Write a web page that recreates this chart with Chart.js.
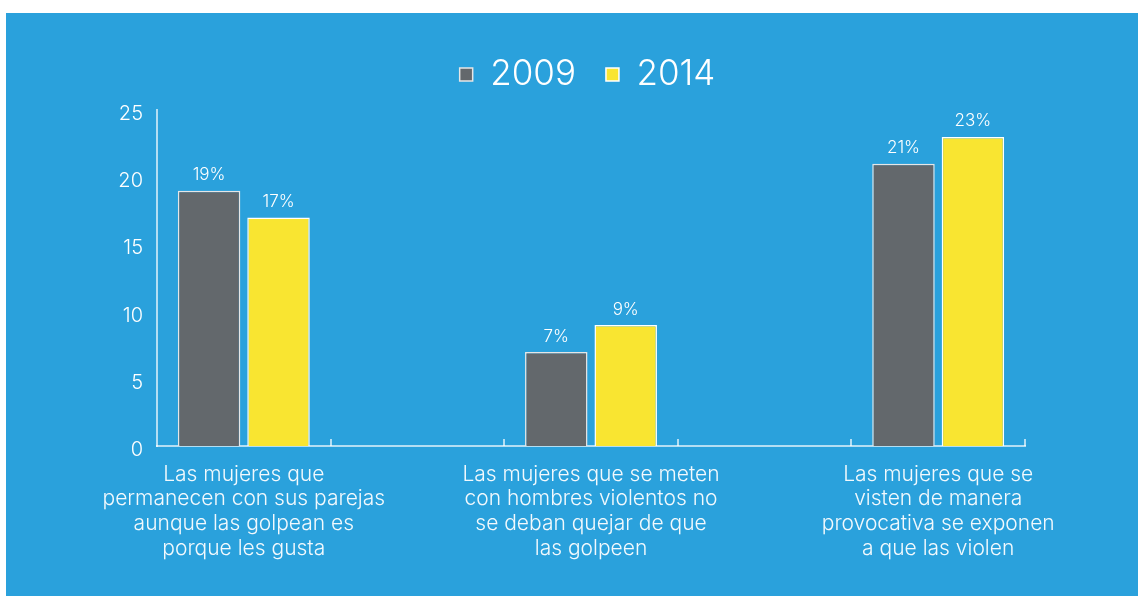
<!DOCTYPE html>
<html>
<head>
<meta charset="utf-8">
<script src="https://cdn.jsdelivr.net/npm/chart.js@4.4.1/dist/chart.umd.min.js"></script>
<style>
  html, body { margin: 0; padding: 0; background: #ffffff; }
  #panel {
    position: absolute;
    left: 6px; top: 13px;
    width: 1132px; height: 583px;
    background: #2AA1DC;
  }
</style>
</head>
<body>
<div id="panel"><canvas id="chart" width="1132" height="583"></canvas></div>
<script>
// Blank categories between the real ones, as in the original chart
const categories = [
    ['Las mujeres que', 'permanecen con sus parejas', 'aunque las golpean es', 'porque les gusta'],
    '',
    ['Las mujeres que se meten', 'con hombres violentos no', 'se deban quejar de que', 'las golpeen'],
    '',
    ['Las mujeres que se', 'visten de manera', 'provocativa se exponen', 'a que las violen']
];
const values2009 = [19, null, 7, null, 21];
const values2014 = [17, null, 9, null, 23];
const yTicks = [0, 5, 10, 15, 20, 25];

const fontFamily = 'Inter, "Noto Sans", sans-serif';
const axisColor = 'rgba(255, 255, 255, 0.65)';

// Percent labels above each bar
const barLabels = {
    id: 'barLabels',
    afterDatasetsDraw(chart) {
        const ctx = chart.ctx;
        ctx.save();
        ctx.fillStyle = '#ffffff';
        ctx.font = '300 17px ' + fontFamily;
        ctx.textAlign = 'center';
        ctx.textBaseline = 'bottom';
        chart.data.datasets.forEach((ds, i) => {
            chart.getDatasetMeta(i).data.forEach((bar, j) => {
                if (ds.data[j] == null) return;
                ctx.fillText(ds.data[j] + '%', bar.x, bar.y - 7);
            });
        });
        ctx.restore();
    }
};

// Small upward tick marks at the category edges
const edgeTicks = {
    id: 'edgeTicks',
    afterDraw(chart) {
        const x = chart.scales.x;
        const area = chart.chartArea;
        const step = x.getPixelForTick(1) - x.getPixelForTick(0);
        const ctx = chart.ctx;
        ctx.save();
        ctx.strokeStyle = axisColor;
        ctx.lineWidth = 2;
        for (let i = 1; i <= categories.length; i++) {
            const px = Math.round(x.getPixelForTick(0) - step / 2 + i * step);
            ctx.beginPath();
            ctx.moveTo(px, area.bottom);
            ctx.lineTo(px, area.bottom - 7);
            ctx.stroke();
        }
        ctx.restore();
    }
};

// Move the legend a bit up and to the right, like the original
const legendShift = {
    id: 'legendShift',
    afterLayout(chart) {
        const lg = chart.legend;
        lg.left += 72;
        lg.right += 72;
        lg.top -= 8;
        lg.bottom -= 8;
    }
};

const ctx = document.getElementById('chart').getContext('2d');
const chart = new Chart(ctx, {
    type: 'bar',
    data: {
        labels: categories,
        datasets: [{
            label: '2009',
            data: values2009,
            backgroundColor: '#63686C',
            borderColor: '#E6E6E6',
            borderWidth: 1.5
        },
        {
            label: '2014',
            data: values2014,
            backgroundColor: '#F9E531',
            borderColor: '#FFFFFF',
            borderWidth: 1.5
        }]
    },
    options: {
        responsive: false,
        animation: false,
        layout: {
            padding: { top: 22, right: 113, left: 0, bottom: 0 }
        },
        datasets: {
            bar: {
                categoryPercentage: 0.8,
                barPercentage: 0.9,
                skipNull: false
            }
        },
        plugins: {
            legend: {
                position: 'top',
                labels: {
                    color: '#ffffff',
                    font: { family: fontFamily, size: 35, weight: 300 },
                    boxWidth: 13,
                    boxHeight: 13,
                    padding: 30
                }
            },
            tooltip: { enabled: false }
        },
        scales: {
            x: {
                grid: { display: false },
                border: { color: axisColor, width: 2 },
                ticks: {
                    color: '#F2F9FD',
                    font: { family: fontFamily, size: 21, weight: 300, lineHeight: 1.18 },
                    padding: 8,
                    maxRotation: 0,
                    minRotation: 0,
                    autoSkip: false
                },
                afterFit(scale) { scale.height = 150; }
            },
            y: {
                min: 0,
                max: 25,
                afterBuildTicks(scale) {
                    scale.ticks = yTicks.map(v => ({ value: v }));
                },
                grid: { display: false, drawTicks: false },
                border: { color: axisColor, width: 2 },
                ticks: {
                    color: '#ffffff',
                    font: { family: fontFamily, size: 20, weight: 300 },
                    padding: 14,
                    labelOffset: 4
                },
                afterFit(scale) { scale.width = 151; }
            }
        }
    },
    plugins: [barLabels, edgeTicks, legendShift]
});
</script>
</body>
</html>
